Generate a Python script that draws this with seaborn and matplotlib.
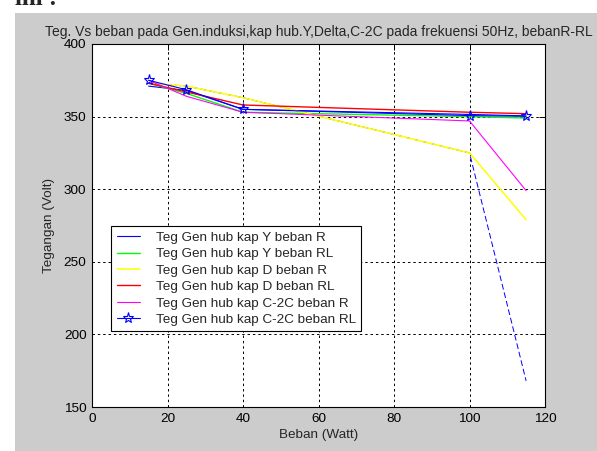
import numpy as np
import pandas as pd
import seaborn as sns
import matplotlib.pyplot as plt
import matplotlib.patches as patches

# beban (Watt)
beban = [15, 25, 40, 100, 115]

# tegangan (Volt) per series
y_r = [371, 368, 355, 351.5, 350.5]
y_rl = [373, 366, 353, 350, 349]
d_r = [373, 371, 363, 325, 279]
d_rl = [373, 367, 358, 353, 352]
c2c_r = [375, 364, 353, 347, 299]
c2c_rl = [375, 368.5, 355, 350.7, 350.2]
# extra dashed trace (not in legend)
extra = [373, 371, 363, 325, 168]

labels = ['Teg Gen hub kap Y beban R', 'Teg Gen hub kap Y beban RL',
          'Teg Gen hub kap D beban R', 'Teg Gen hub kap D beban RL',
          'Teg Gen hub kap C-2C beban R', 'Teg Gen hub kap C-2C beban RL']

sns.set_style('white')
plt.rcParams['font.family'] = ['Liberation Sans', 'DejaVu Sans']

W, H = 597, 451
fig = plt.figure(figsize=(W / 100, H / 100), dpi=100, facecolor='white')
fig.patches.append(patches.Rectangle((15 / W, 0), 1 - 15 / W, (H - 13) / H,
                                     transform=fig.transFigure, facecolor='#cccccc',
                                     edgecolor='none', zorder=-10))
fig.text(15 / W, 1 - 5 / H, 'ini :', fontsize=18, fontweight='bold',
         family='Liberation Serif', ha='left', va='baseline')

ax = fig.add_axes([92 / W, 44 / H, 453 / W, 363 / H])
ax.set_zorder(1)
ax.set_facecolor('white')

lw = 0.8
sns.lineplot(x=beban, y=extra, ax=ax, color='#0000ff', lw=0.7,
             linestyle=(0, (6, 3)), label='_nolegend_')
sns.lineplot(x=beban, y=y_r, ax=ax, color='#0000ff', lw=lw, label=labels[0])
sns.lineplot(x=beban, y=y_rl, ax=ax, color='#00ff00', lw=1.0, label=labels[1])
sns.lineplot(x=beban, y=d_r, ax=ax, color='#ffff00', lw=1.1, label=labels[2])
sns.lineplot(x=beban, y=d_rl, ax=ax, color='#ff0000', lw=1.0, label=labels[3])
sns.lineplot(x=beban, y=c2c_r, ax=ax, color='#ff00ff', lw=lw, label=labels[4])
sns.lineplot(x=beban, y=c2c_rl, ax=ax, color='#0000ff', lw=lw, marker='*',
             markersize=8, markerfacecolor='none', markeredgecolor='#0000ff',
             markeredgewidth=0.8, label=labels[5])

ax.set_xlim(0, 120)
ax.set_ylim(150, 400)
ax.set_xticks(np.arange(0, 121, 20))
ax.set_yticks(np.arange(150, 401, 50))
ax.grid(True, color='black', linestyle=(0, (2.5, 3)), lw=0.7)
ax.tick_params(direction='in', length=4, width=0.7, labelsize=9.7, colors='black',
               top=True, right=True, pad=4)
for s in ax.spines.values():
    s.set_edgecolor('black')
    s.set_linewidth(0.8)

ax.set_xlabel('Beban (Watt)', fontsize=9.7, labelpad=3)
ax.set_ylabel('Tegangan (Volt)', fontsize=9.7, labelpad=6)
ax.set_title('Teg. Vs beban pada Gen.induksi,kap hub.Y,Delta,C-2C pada frekuensi 50Hz, bebanR-RL',
             fontsize=10, pad=6)

leg = ax.legend(loc='lower left', bbox_to_anchor=(0.043, 0.208), fontsize=9.7,
                frameon=True, fancybox=False, framealpha=1, edgecolor='black',
                handlelength=1.7, handletextpad=1.2, labelspacing=0.3,
                borderpad=0.4, borderaxespad=0)
leg.get_frame().set_linewidth(0.8)

fig.savefig('out.png', dpi=100, facecolor=fig.get_facecolor())
